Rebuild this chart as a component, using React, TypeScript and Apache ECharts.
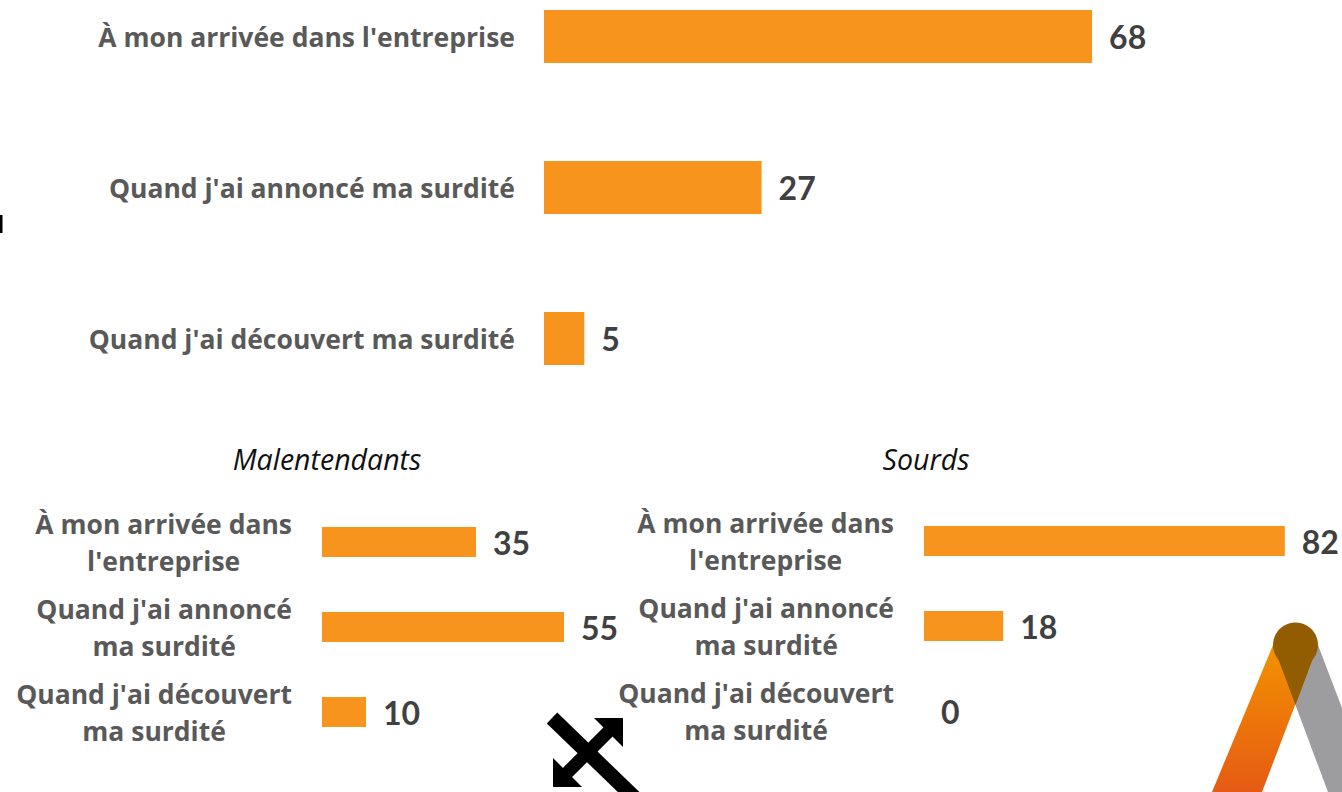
import React, { useEffect, useRef } from "react";
import * as echarts from "echarts";

const categories = [
  "À mon arrivée dans l'entreprise",
  "Quand j'ai annoncé ma surdité",
  "Quand j'ai découvert ma surdité",
];
const wrappedCategories = [
  "À mon arrivée dans\nl'entreprise",
  "Quand j'ai annoncé\nma surdité",
  "Quand j'ai découvert\nma surdité",
];
const ensembleValues = [68, 27, 5];
const malentendantsValues = [35, 55, 10];
const sourdsValues = [82, 18, 0];
const subTitles = ["Malentendants", "Sourds"];

const FONT = "Open Sans";
const VFONT = "Lato";
const BAR = "#F7941E";
const LABEL_GRAY = "#595959";
const VALUE_GRAY = "#404040";

function catAxis(gridIndex: number, data: string[], wrapped: boolean) {
  return {
    type: "category",
    gridIndex,
    data,
    inverse: true,
    axisLine: { show: false },
    axisTick: { show: false },
    splitLine: { show: false },
    axisLabel: wrapped
      ? {
          margin: 30,
          align: "right",
          formatter: (v: string) =>
            v
              .split("\n")
              .map((l) => `{c|${l}}`)
              .join("\n"),
          rich: {
            c: {
              align: "center",
              fontFamily: FONT,
              fontWeight: "bold",
              fontSize: 26.5,
              color: LABEL_GRAY,
              lineHeight: 37,
            },
          },
        }
      : {
          margin: 29,
          fontFamily: FONT,
          fontWeight: "bold",
          fontSize: 26.5,
          color: LABEL_GRAY,
        },
  };
}

function valAxis(gridIndex: number) {
  return { type: "value", gridIndex, min: 0, max: 100, show: false };
}

function barSeries(idx: number, data: number[], barWidth: number) {
  return {
    type: "bar",
    xAxisIndex: idx,
    yAxisIndex: idx,
    data,
    barWidth,
    itemStyle: { color: BAR },
    label: {
      show: true,
      position: "right",
      distance: 17,
      fontFamily: VFONT,
      fontWeight: "bold",
      fontSize: 32,
      color: VALUE_GRAY,
    },
  };
}

export default function App() {
  const ref = useRef<HTMLDivElement>(null);
  useEffect(() => {
    if (!ref.current) return;
    const chart = echarts.init(ref.current, null, { renderer: "svg" });
    const titleStyle = {
      fontFamily: FONT,
      fontStyle: "italic",
      fontWeight: "normal",
      fontSize: 28.5,
      color: "#111",
    };
    chart.setOption({
      animation: false,
      backgroundColor: "#ffffff",
      title: [
        { text: subTitles[0], left: 322, top: 439, textAlign: "center", textStyle: titleStyle },
        { text: subTitles[1], left: 921, top: 439, textAlign: "center", textStyle: titleStyle },
      ],
      grid: [
        { left: 544, top: -39, width: 806, height: 453, outerBoundsMode: "none", containLabel: false },
        { left: 322, top: 499.5, width: 440, height: 255, outerBoundsMode: "none", containLabel: false },
        { left: 924, top: 498.5, width: 440, height: 255, outerBoundsMode: "none", containLabel: false },
      ],
      xAxis: [valAxis(0), valAxis(1), valAxis(2)],
      yAxis: [
        catAxis(0, categories, false),
        catAxis(1, wrappedCategories, true),
        catAxis(2, wrappedCategories, true),
      ],
      series: [
        barSeries(0, ensembleValues, 53),
        barSeries(1, malentendantsValues, 30),
        barSeries(2, sourdsValues, 30),
      ],
      graphic: [
        { type: "rect", shape: { x: 0, y: 215, width: 2.5, height: 18 }, style: { fill: "#000" } },
        // expand icon
        { type: "line", shape: { x1: 552, y1: 718, x2: 640, y2: 803 }, style: { stroke: "#000", lineWidth: 15 } },
        { type: "line", shape: { x1: 562, y1: 778, x2: 613, y2: 727 }, style: { stroke: "#000", lineWidth: 13 } },
        { type: "polygon", shape: { points: [[594, 718], [623, 718], [623, 747]] }, style: { fill: "#000" } },
        { type: "polygon", shape: { points: [[553, 758], [553, 787], [582, 787]] }, style: { fill: "#000" } },
        // logo
        {
          type: "polygon",
          shape: { points: [[1273, 645], [1318, 645], [1374, 792], [1328, 792]] },
          style: { fill: "#9D9D9F" },
        },
        {
          type: "polygon",
          shape: { points: [[1273, 645], [1318, 645], [1262, 792], [1212, 792]] },
          style: {
            fill: new echarts.graphic.LinearGradient(0, 0, 0, 1, [
              { offset: 0, color: "#F39200" },
              { offset: 1, color: "#E65A14" },
            ]),
          },
        },
        {
          type: "polygon",
          shape: { points: [[1273, 645], [1318, 645], [1295.5, 705]] },
          style: { fill: "#925D00" },
        },
        { type: "circle", shape: { cx: 1295.5, cy: 645, r: 22.5 }, style: { fill: "#925D00" } },
      ],
    });
    return () => chart.dispose();
  }, []);
  return (
    <div
      ref={ref}
      style={{ position: "fixed", left: 0, top: 0, width: 1342, height: 792, overflow: "hidden" }}
    />
  );
}
